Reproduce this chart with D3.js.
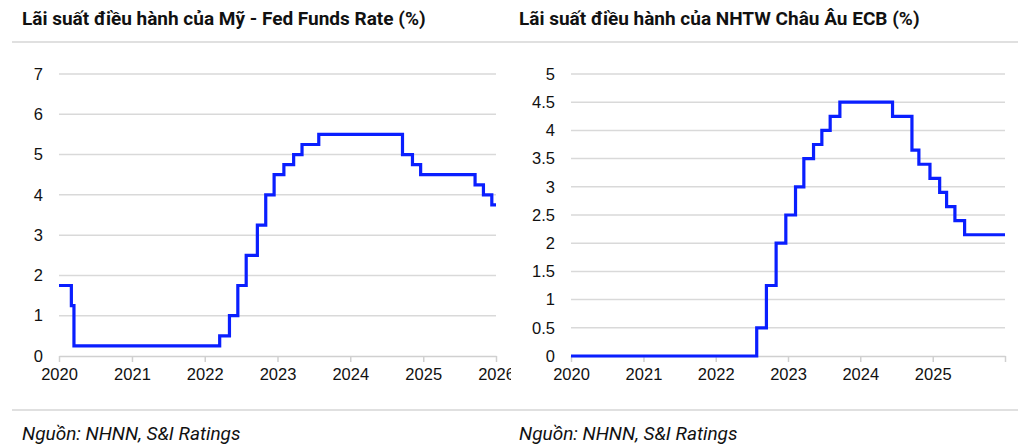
<!DOCTYPE html>
<html><head><meta charset="utf-8">
<script src="https://cdn.jsdelivr.net/npm/d3@7/dist/d3.min.js"></script>
<style>
html,body{margin:0;padding:0;background:#fff;}
svg{display:block;}
</style></head>
<body>
<svg id="c" width="1024" height="448"></svg>
<script>
const fedTitle = "Lãi suất điều hành của Mỹ - Fed Funds Rate (%)";
const ecbTitle = "Lãi suất điều hành của NHTW Châu Âu ECB (%)";
const sourceText = "Nguồn: NHNN, S&I Ratings";

const fedDates = ["2020-01-01","2020-03-03","2020-03-16","2022-03-17","2022-05-05","2022-06-16","2022-07-28","2022-09-22","2022-11-03","2022-12-15","2023-02-02","2023-03-23","2023-05-04","2023-07-27","2024-09-19","2024-11-08","2024-12-19","2025-09-18","2025-10-30","2025-12-11","2026-01-01"];
const fedValues = [1.75,1.25,0.25,0.5,1.0,1.75,2.5,3.25,4.0,4.5,4.75,5.0,5.25,5.5,5.0,4.75,4.5,4.25,4.0,3.75,3.75];

const ecbDates = ["2020-01-01","2022-07-27","2022-09-14","2022-11-02","2022-12-21","2023-02-08","2023-03-22","2023-05-10","2023-06-21","2023-08-02","2023-09-20","2024-06-12","2024-09-18","2024-10-23","2024-12-18","2025-02-05","2025-03-12","2025-04-23","2025-06-11","2026-01-01"];
const ecbValues = [0,0.5,1.25,2.0,2.5,3.0,3.5,3.75,4.0,4.25,4.5,4.25,3.65,3.4,3.15,2.9,2.65,2.4,2.15,2.15];

const fedYTicks = [0,1,2,3,4,5,6,7];
const ecbYTicks = [0,0.5,1,1.5,2,2.5,3,3.5,4,4.5,5];
const fedXTicks = [2020,2021,2022,2023,2024,2025,2026];
const ecbXTicks = [2020,2021,2022,2023,2024,2025];

const svg = d3.select("#c");
const parse = d3.timeParse("%Y-%m-%d");
const lineColor = "#0a1fff";
const gridColor = "#d9d9d9";

// separators
svg.append("line").attr("x1",12).attr("x2",1018).attr("y1",42).attr("y2",42).attr("stroke","#d6d6d6").attr("stroke-width",1.5);
svg.append("line").attr("x1",12).attr("x2",1018).attr("y1",410).attr("y2",410).attr("stroke","#d6d6d6").attr("stroke-width",1.5);

const defs = svg.append("defs");
defs.append("clipPath").attr("id","clipL").append("rect").attr("x",0).attr("y",0).attr("width",511).attr("height",448);

function panel(opts){
  const g = svg.append("g");
  if (opts.clip) g.attr("clip-path","url(#"+opts.clip+")");
  g.append("text").attr("x",opts.titleX).attr("y",25)
    .attr("font-family","Roboto, 'Noto Sans', sans-serif").attr("font-weight","bold")
    .attr("font-size",19).attr("fill","#111").text(opts.title);
  g.append("text").attr("x",opts.titleX).attr("y",440)
    .attr("font-family","Roboto, 'Noto Sans', sans-serif").attr("font-style","italic")
    .attr("font-size",19).attr("fill","#111").text(sourceText);

  const x = d3.scaleTime().domain([new Date(2020,0,1), new Date(2026,0,1)]).range([opts.x0, opts.x1]);
  const y = d3.scaleLinear().domain([0, opts.yMax]).range([356, 74]);

  // gridlines
  g.append("g").selectAll("line").data(opts.yTicks.filter(d=>d>0)).join("line")
    .attr("x1",opts.x0).attr("x2",opts.x1).attr("y1",d=>y(d)).attr("y2",d=>y(d))
    .attr("stroke",gridColor).attr("stroke-width",1.5);

  // y labels
  const ya = d3.axisLeft(y).tickValues(opts.yTicks).tickSize(0).tickPadding(16)
    .tickFormat(d=>String(d));
  const yg = g.append("g").attr("transform",`translate(${opts.x0},0)`).call(ya);
  yg.select(".domain").remove();
  yg.selectAll("text").attr("font-family","'Liberation Sans', Arial, sans-serif").attr("font-size",16.5).attr("fill","#111");

  // x axis
  const xa = d3.axisBottom(x).tickValues(opts.xTickAll.map(v=>new Date(v,0,1))).tickSize(6).tickSizeOuter(0)
    .tickPadding(6).tickFormat(d=> opts.xTicks.includes(d.getFullYear()) ? String(d.getFullYear()) : "");
  const xg = g.append("g").attr("transform","translate(0,356)").call(xa);
  xg.select(".domain").attr("stroke","#d0d0d0").attr("stroke-width",1.5);
  xg.selectAll(".tick line").attr("stroke","#d0d0d0").attr("stroke-width",1.5);
  xg.selectAll("text").attr("font-family","'Liberation Sans', Arial, sans-serif").attr("font-size",16.5).attr("fill","#111");

  const data = opts.dates.map((d,i)=>({d:parse(d), v:opts.values[i]}));
  const line = d3.line().x(d=>x(d.d)).y(d=>y(d.v)).curve(d3.curveStepAfter);
  g.append("path").datum(data).attr("d",line).attr("fill","none")
    .attr("stroke",lineColor).attr("stroke-width",3.2).attr("stroke-linejoin","miter");
}

panel({title:fedTitle, titleX:22, x0:59, x1:496, yMax:7, yTicks:fedYTicks, xTicks:fedXTicks, xTickAll:fedXTicks, dates:fedDates, values:fedValues, clip:"clipL"});
panel({title:ecbTitle, titleX:519, x0:571, x1:1005, yMax:5, yTicks:ecbYTicks, xTicks:ecbXTicks, xTickAll:[2020,2021,2022,2023,2024,2025,2026], dates:ecbDates, values:ecbValues});
</script>
</body></html>
